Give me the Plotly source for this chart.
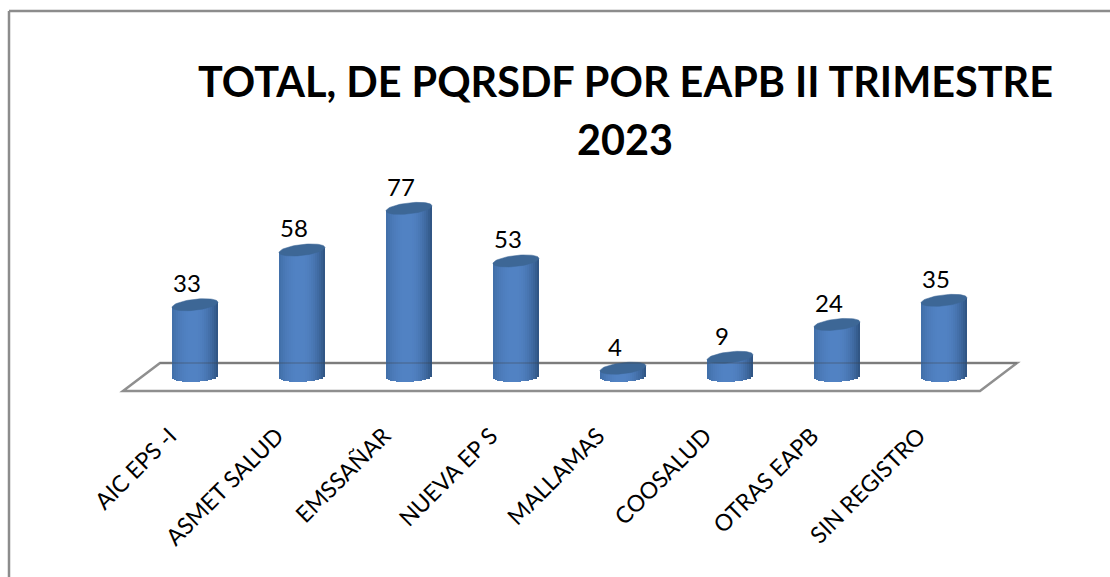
import numpy as np
import plotly.graph_objects as go

categories = ["AIC EPS -I", "ASMET SALUD", "EMSSAÑAR", "NUEVA EP S", "MALLAMAS", "COOSALUD", "OTRAS EAPB", "SIN REGISTRO"]
values = [33, 58, 77, 53, 4, 9, 24, 35]
title_lines = ["TOTAL, DE PQRSDF POR EAPB II TRIMESTRE", "2023"]

W, H = 1110, 577
PX_UNIT_X = 107.0
PX_UNIT_Y = 2.19
X0_PX = 195.0
Y0_PX = 377.0
AXIS_PX = 417.0
BAR_W = 46 / PX_UNIT_X
RX = BAR_W / 2
RY = 5.5 / PX_UNIT_Y
RY_BOTTOM = 4.8 / PX_UNIT_Y
TILT = 2.5 / PX_UNIT_Y
TILT_BOTTOM = 1.0 / PX_UNIT_Y
STRIPS = 23
TICK_SHIFT = 25 / PX_UNIT_X

idx = np.arange(len(categories))
y_top = Y0_PX / PX_UNIT_Y
y_bot = (Y0_PX - AXIS_PX) / PX_UNIT_Y


def shade(t):
    u = 1 - min(abs(t + 0.08) / 1.08, 1) ** 2.2
    dark = np.array([46, 82, 128]) if t > 0 else np.array([58, 102, 156])
    light = np.array([82, 131, 196])
    c = dark + (light - dark) * u
    return "rgb(%d,%d,%d)" % tuple(c)


fig = go.Figure()
for s in range(STRIPS):
    t0 = -1 + 2 * s / STRIPS
    t1 = -1 + 2 * (s + 1) / STRIPS
    t = (t0 + t1) / 2
    drop = RY_BOTTOM * np.sqrt(1 - t * t) - TILT_BOTTOM * t
    rise = TILT * t
    fig.add_trace(go.Bar(
        x=idx, y=[v + rise + drop for v in values], base=[-drop] * len(values),
        width=BAR_W / STRIPS * 1.08, offset=t0 * RX,
        marker=dict(color=shade(t), line_width=0),
        hoverinfo="skip", showlegend=False,
    ))

theta = np.linspace(0, 2 * np.pi, 61)
for i, v in zip(idx, values):
    fig.add_trace(go.Scatter(
        x=i + RX * np.cos(theta),
        y=v + RY * np.sin(theta) + TILT * np.cos(theta),
        mode="lines", fill="toself", fillcolor="#3d6796",
        line=dict(color="#3d6796", width=0.5),
        hoverinfo="skip", showlegend=False,
    ))

annotations = [
    dict(x=i, y=v, xref="x", yref="y", text=str(v), showarrow=False,
         xshift=-8, yshift=22, font=dict(family="Lato, sans-serif", size=24, color="#000"))
    for i, v in zip(idx, values)
]


def px(xp, yp):
    return xp / W, 1 - yp / AXIS_PX


for line, yp in zip(title_lines, [81, 139]):
    xf, yf = px(625, yp)
    annotations.append(dict(
        x=xf, y=yf, xref="paper", yref="paper", text="<b>" + line + "</b>",
        showarrow=False, align="center", yanchor="middle",
        font=dict(family="Lato, sans-serif", size=41.4, color="#000"),
    ))

floor = [(123, 391), (980, 391), (1017, 363), (160, 363)]
path = "M " + " L ".join("%.5f,%.5f" % px(*p) for p in floor) + " Z"
shapes = [
    dict(type="path", xref="paper", yref="paper", path=path, fillcolor="#ffffff",
         line=dict(color="#8f8f8f", width=2.5), layer="below"),
    dict(type="line", xref="paper", yref="paper", x0=px(160, 363)[0], x1=px(1017, 363)[0],
         y0=px(160, 363)[1], y1=px(1017, 363)[1], line=dict(color="rgba(60,60,60,0.22)", width=2), layer="above"),
    dict(type="line", xref="paper", yref="paper", x0=px(9, 11)[0], x1=px(9, 577)[0],
         y0=px(9, 11)[1], y1=px(9, 577)[1], line=dict(color="#8c8c8c", width=2.5), layer="below"),
    dict(type="line", xref="paper", yref="paper", x0=px(9, 11)[0], x1=px(W, 11)[0],
         y0=px(9, 11)[1], y1=px(W, 11)[1], line=dict(color="#8c8c8c", width=2.5), layer="below"),
]

fig.update_layout(
    width=W, height=H, autosize=False,
    margin=dict(l=0, r=0, t=0, b=H - AXIS_PX, pad=0),
    paper_bgcolor="white", plot_bgcolor="rgba(0,0,0,0)",
    barmode="overlay", bargap=0,
    xaxis=dict(range=[-X0_PX / PX_UNIT_X, (W - X0_PX) / PX_UNIT_X],
               tickmode="array", tickvals=(idx - TICK_SHIFT).tolist(), ticktext=categories,
               tickangle=-45, ticks="", ticklen=0, showgrid=False, zeroline=False,
               showline=False, tickfont=dict(family="Lato, sans-serif", size=23, color="#000")),
    yaxis=dict(range=[y_bot, y_top], visible=False, showgrid=False, zeroline=False),
    annotations=annotations, shapes=shapes,
)
fig.write_html("out.html", config={"displayModeBar": False},
               post_script="document.body.style.margin='0';document.body.style.overflow='hidden';")
